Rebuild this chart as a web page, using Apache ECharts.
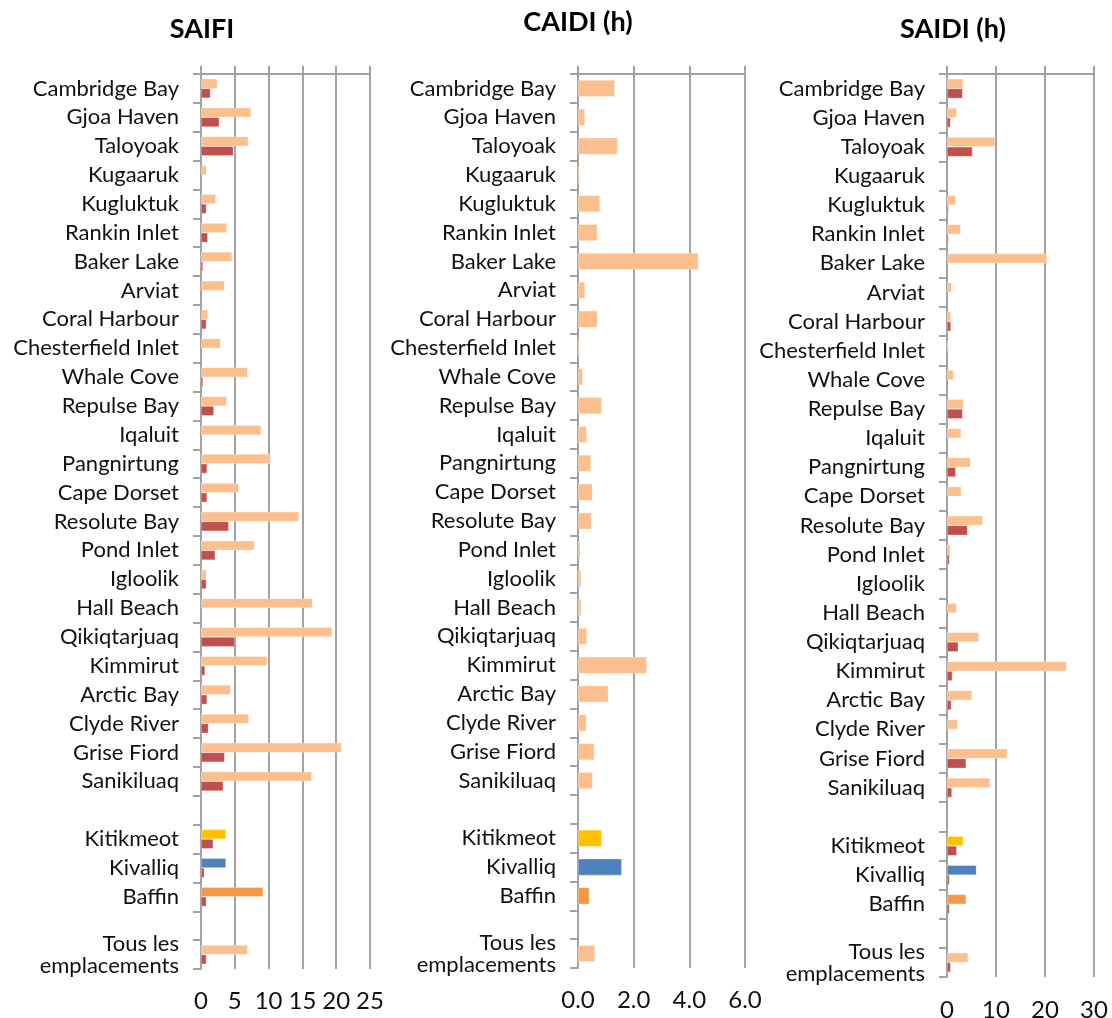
<!DOCTYPE html>
<html>
<head>
<meta charset="utf-8">
<script src="https://cdn.jsdelivr.net/npm/echarts@6/dist/echarts.min.js"></script>
<style>
html,body{margin:0;padding:0;background:#fff;}
#chart{width:1112px;height:1018px;}
</style>
</head>
<body>
<div id="chart"></div>
<script>
const categories = ['Cambridge Bay','Gjoa Haven','Taloyoak','Kugaaruk','Kugluktuk','Rankin Inlet','Baker Lake','Arviat','Coral Harbour','Chesterfield Inlet','Whale Cove','Repulse Bay','Iqaluit','Pangnirtung','Cape Dorset','Resolute Bay','Pond Inlet','Igloolik','Hall Beach','Qikiqtarjuaq','Kimmirut','Arctic Bay','Clyde River','Grise Fiord','Sanikiluaq','','Kitikmeot','Kivalliq','Baffin','','Tous les\nemplacements'];

const saifiMain = [2.4,7.4,7.0,0.8,2.2,3.8,4.6,3.5,1.0,2.9,6.9,3.8,8.9,10.3,5.6,14.5,7.9,0.8,16.5,19.4,9.8,4.4,7.1,20.8,16.4,null,3.7,3.7,9.2,null,6.9];
const saifiSecond = [1.4,2.7,4.8,null,0.8,1.0,0.3,null,0.8,null,0.3,1.9,null,0.9,0.9,4.1,2.1,0.8,null,5.0,0.6,0.9,1.1,3.5,3.3,null,1.8,0.5,0.8,null,0.8];

const caidiMain = [1.32,0.25,1.42,0.06,0.79,0.70,4.33,0.25,0.70,0.06,0.17,0.85,0.31,0.46,0.52,0.48,0.08,0.11,0.11,0.32,2.47,1.09,0.30,0.59,0.53,null,0.85,1.57,0.41,null,0.61];

const saidiMain = [3.3,2.0,9.8,null,1.8,2.8,20.4,0.95,0.8,0.3,1.3,3.4,2.9,4.8,2.9,7.3,0.7,null,2.0,6.5,24.4,5.1,2.2,12.3,8.8,null,3.3,6.0,3.9,null,4.3];
const saidiSecond = [3.2,0.7,5.2,null,0.3,0.3,null,null,0.8,null,null,3.2,null,1.8,null,4.2,0.5,null,null,2.3,1.1,0.9,null,3.9,1.0,null,2.0,0.5,0.5,null,0.75];

const titles = ['SAIFI','CAIDI (h)','SAIDI (h)'];
const saifiTicks = {min:0,max:25,interval:5};
const caidiTicks = {min:0,max:6,interval:2};
const saidiTicks = {min:0,max:30,interval:10};

const FONT = 'Lato';
const GRIDC = '#A2A2A2';
const LIGHT = '#FCBF8E';
const DARK = '#C0504D';
const regionColors = {26:'#FFC000',27:'#4F81BD',28:'#F79646'};

function colored(arr){
  return arr.map((v,i)=> regionColors[i] ? {value:v,itemStyle:{color:regionColors[i]}} : v);
}

const grids = [
  {left:201, top:74, width:169, height:895, outerBoundsMode:'none', containLabel:false},
  {left:578, top:74, width:167, height:894, outerBoundsMode:'none', containLabel:false},
  {left:947, top:74, width:147, height:903, outerBoundsMode:'none', containLabel:false}
];
const ticks = [saifiTicks, caidiTicks, saidiTicks];
const fmt = [v=>String(v), v=>v.toFixed(1), v=>String(v)];
const labelMargins = [20, 20, 21];

const xAxes = [], yAxes = [];
grids.forEach((g,i)=>{
  xAxes.push({
    type:'value', gridIndex:i, position:'bottom', min:ticks[i].min, max:ticks[i].max, interval:ticks[i].interval,
    axisLine:{show:false}, axisTick:{show:false},
    splitLine:{show:true,lineStyle:{color:GRIDC,width:2}},
    axisLabel:{fontFamily:FONT,fontSize:24,color:'#111',margin:labelMargins[i],formatter:fmt[i]}
  });
  xAxes.push({
    type:'value', gridIndex:i, position:'top', min:ticks[i].min, max:ticks[i].max, interval:ticks[i].interval,
    axisLine:{show:true,lineStyle:{color:GRIDC,width:2}},
    axisTick:{show:true,length:8,lineStyle:{color:GRIDC,width:2}},
    axisLabel:{show:false}, splitLine:{show:false}
  });
  yAxes.push({
    type:'category', gridIndex:i, data:categories, inverse:true,
    axisLine:{show:true,lineStyle:{color:GRIDC,width:2}},
    axisTick:{show:true,length:8,lineStyle:{color:GRIDC,width:2}},
    axisLabel:{fontFamily:FONT,fontSize:22,color:'#111',margin:22,lineHeight:22,interval:0},
    splitLine:{show:false}
  });
});

const barStyle = {borderColor:'rgba(255,255,255,0.6)',borderWidth:0.5};
const series = [
  {type:'bar',xAxisIndex:0,yAxisIndex:0,data:colored(saifiMain),itemStyle:Object.assign({color:LIGHT},barStyle),barGap:'0%',barCategoryGap:'33%'},
  {type:'bar',xAxisIndex:0,yAxisIndex:0,data:saifiSecond,itemStyle:Object.assign({color:DARK},barStyle),barGap:'0%',barCategoryGap:'33%'},
  {type:'bar',xAxisIndex:2,yAxisIndex:1,data:colored(caidiMain),itemStyle:Object.assign({color:LIGHT},barStyle),barCategoryGap:'42%'},
  {type:'bar',xAxisIndex:4,yAxisIndex:2,data:colored(saidiMain),itemStyle:Object.assign({color:LIGHT},barStyle),barGap:'0%',barCategoryGap:'33%'},
  {type:'bar',xAxisIndex:4,yAxisIndex:2,data:saidiSecond,itemStyle:Object.assign({color:DARK},barStyle),barGap:'0%',barCategoryGap:'33%'}
];

const chart = echarts.init(document.getElementById('chart'),null,{renderer:'canvas'});
chart.setOption({
  animation:false,
  backgroundColor:'#fff',
  title:[
    {text:titles[0],left:197,top:11,textAlign:'center',textStyle:{fontFamily:FONT,fontSize:27,fontWeight:'bold',color:'#000'}},
    {text:titles[1],left:573,top:4,textAlign:'center',textStyle:{fontFamily:FONT,fontSize:27,fontWeight:'bold',color:'#000'}},
    {text:titles[2],left:948,top:11,textAlign:'center',textStyle:{fontFamily:FONT,fontSize:27,fontWeight:'bold',color:'#000'}}
  ],
  grid:grids,
  xAxis:xAxes,
  yAxis:yAxes,
  series:series
});
</script>
</body>
</html>
